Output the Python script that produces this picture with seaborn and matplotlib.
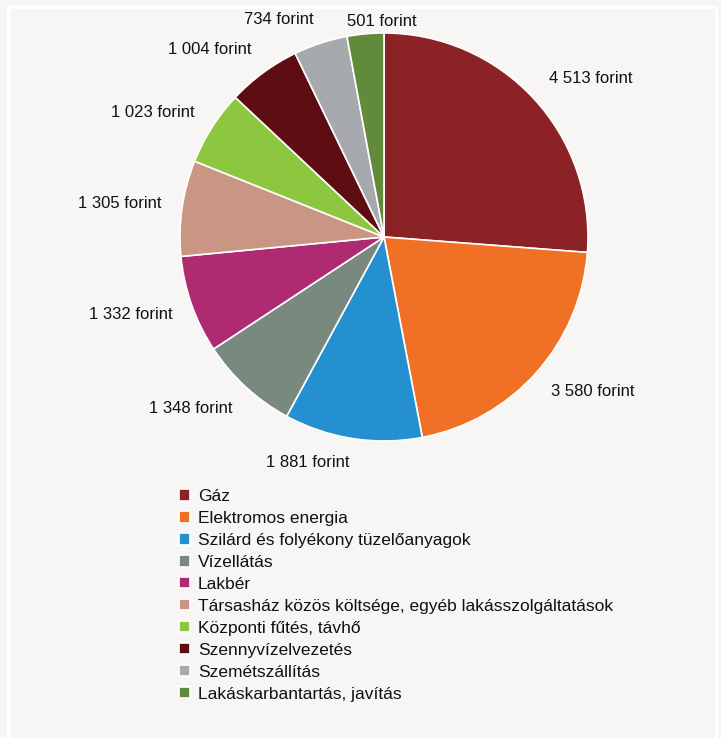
import matplotlib
matplotlib.use("Agg")
import matplotlib.pyplot as plt
import seaborn as sns
import numpy as np
from matplotlib.patches import Rectangle

categories = ["Gáz", "Elektromos energia", "Szilárd és folyékony tüzelőanyagok", "Vízellátás",
              "Lakbér", "Társasház közös költsége, egyéb lakásszolgáltatások",
              "Központi fűtés, távhő", "Szennyvízelvezetés", "Szemétszállítás",
              "Lakáskarbantartás, javítás"]
values = [4513, 3580, 1881, 1348, 1332, 1305, 1023, 1004, 734, 501]
value_labels = ["4 513 forint", "3 580 forint", "1 881 forint", "1 348 forint", "1 332 forint",
                "1 305 forint", "1 023 forint", "1 004 forint", "734 forint", "501 forint"]
colors = ["#8B2226", "#F07026", "#2490D0", "#798980", "#B02A72", "#C99683",
          "#8DC63F", "#5E0E12", "#A7AAAD", "#618B3B"]

BG = "#F7F6F4"
sns.set_theme(style="white", rc={"figure.facecolor": BG, "axes.facecolor": BG})
plt.rcParams["font.family"] = ["Liberation Sans", "DejaVu Sans"]

W, H = 721, 738
fig = plt.figure(figsize=(W / 100, H / 100), dpi=100)
fig.patch.set_facecolor(BG)
fig.patches.append(Rectangle((8 / W, -0.01), (716 - 8) / W, (738 - 7) / H + 0.01,
                             transform=fig.transFigure, fill=False, edgecolor="white", lw=2))

cx, cy, R = 384, 237, 204
ax = fig.add_axes([(cx - R) / W, (H - cy - R) / H, 2 * R / W, 2 * R / H])
ax.set_facecolor("none")
pal = sns.color_palette(colors)
wedges, _ = ax.pie(values, colors=pal, startangle=90, counterclock=False,
                   wedgeprops=dict(edgecolor="white", linewidth=1.2))
ax.set_xlim(-1, 1)
ax.set_ylim(-1, 1)
ax.set_aspect("equal")
ax.axis("off")

for w, lab in zip(wedges, value_labels):
    ang = np.deg2rad((w.theta1 + w.theta2) / 2)
    x, y = np.cos(ang), np.sin(ang)
    dx = 1.1
    dy = 1.12 if abs(y) > 0.9 else 1.14
    if abs(x) < 0.12:
        ha = "center"
        dx, dy = 1.06, 1.06
        x = x + 0.08
    else:
        ha = "left" if x > 0 else "right"
    ax.text(dx * x, dy * y, lab, ha=ha, va="center", fontsize=12,
            color="#111111", clip_on=False)

leg = fig.legend(wedges, categories, loc="upper left", bbox_to_anchor=(179 / W, 1 - 489 / H),
                 frameon=False, fontsize=12.5, handlelength=0.65, handleheight=0.65,
                 handletextpad=0.45, labelspacing=0.4, borderpad=0, borderaxespad=0)
for t in leg.get_texts():
    t.set_color("#111111")

fig.savefig("out.png", dpi=100, facecolor=BG)
